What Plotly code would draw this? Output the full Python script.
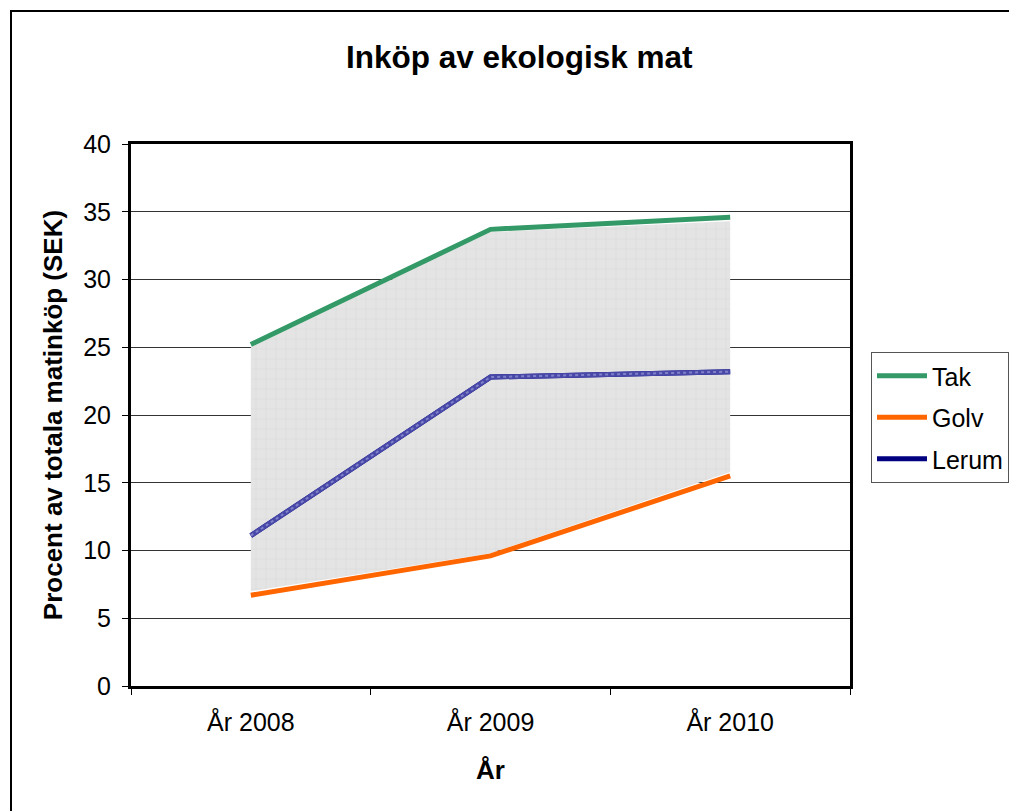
import plotly.graph_objects as go

years = ["År 2008", "År 2009", "År 2010"]
tak = [25.2, 33.7, 34.6]
golv = [6.7, 9.6, 15.5]
lerum = [11.1, 22.8, 23.2]
band_low = [7.0, 9.8, 15.8]
band_high = [25.0, 33.5, 34.3]
y_ticks = [0, 5, 10, 15, 20, 25, 30, 35, 40]

xpos = [i + 0.5 for i in range(len(years))]

fig = go.Figure()

# grey band
fig.add_trace(go.Scatter(x=xpos, y=band_low, mode="lines", line=dict(width=0),
                         showlegend=False, hoverinfo="skip"))
fig.add_trace(go.Scatter(x=xpos, y=band_high, mode="lines", line=dict(width=0),
                         fill="tonexty", fillcolor="#e2e2e2",
                         fillpattern=dict(shape="+", size=10, solidity=0.08,
                                          fgcolor="#c4c4c4", bgcolor="#e4e4e4"),
                         showlegend=False, hoverinfo="skip"))

fig.add_trace(go.Scatter(x=xpos, y=tak, name="Tak", mode="lines", legendgroup="a",
                         line=dict(color="#339966", width=5)))
fig.add_trace(go.Scatter(x=xpos, y=golv, name="Golv", mode="lines", legendgroup="b",
                         line=dict(color="#FF6600", width=5)))
fig.add_trace(go.Scatter(x=xpos, y=lerum, name="Lerum", mode="lines", legendgroup="c",
                         line=dict(color="#000080", width=5)))
fig.add_trace(go.Scatter(x=xpos, y=lerum, mode="lines", showlegend=False,
                         line=dict(color="#4848a8", width=5), hoverinfo="skip"))
fig.add_trace(go.Scatter(x=xpos, y=lerum, mode="lines", showlegend=False,
                         line=dict(color="#8080c8", width=2, dash="dot"), hoverinfo="skip"))

font = "Liberation Sans, Arial, sans-serif"

fig.update_layout(
    width=1009, height=811,
    margin=dict(l=131, r=159, t=144, b=125),
    paper_bgcolor="white", plot_bgcolor="white",
    font=dict(family=font, size=25, color="black"),
    showlegend=True,
    legend=dict(xref="container", yref="container",
                x=871 / 1009, y=1 - 352 / 811, xanchor="left", yanchor="top",
                traceorder="grouped",
                bordercolor="#555555", borderwidth=1, bgcolor="white",
                font=dict(size=25, family=font), tracegroupgap=6,
                itemwidth=50),
    xaxis=dict(range=[0, 3], tickvals=xpos, ticktext=years, ticks="",
               showgrid=False, zeroline=False,
               showline=True, linecolor="black", linewidth=3, mirror=True,
               tickfont=dict(size=25), ticklabelstandoff=12,
               minor=dict(tickvals=[0, 1, 2, 3], ticks="outside", ticklen=6,
                          tickcolor="black", tickwidth=1, showgrid=False),
               title=dict(text="<b>År</b>", font=dict(size=26), standoff=26)),
    yaxis=dict(range=[0, 40], tickvals=y_ticks, ticks="outside", ticklen=6,
               tickcolor="black", showgrid=True, gridcolor="#333333", gridwidth=1,
               zeroline=False, showline=True, linecolor="black", linewidth=3,
               mirror=True, tickfont=dict(size=25), ticklabelstandoff=6,
               title=dict(text="<b>Procent av totala matinköp (SEK)</b>",
                          font=dict(size=26), standoff=14)),
    shapes=[dict(type="rect", xref="paper", yref="paper",
                 x0=(11 - 131) / 719, x1=(1030 - 131) / 719,
                 y0=(686 - 830) / 542, y1=(686 - 11) / 542,
                 line=dict(color="black", width=2), layer="below")],
    annotations=[dict(text="<b>Inköp av ekologisk mat</b>", xref="paper", yref="paper",
                      x=(519 - 131) / 719, y=(686 - 57) / 542, showarrow=False,
                      font=dict(size=31.5, family=font), xanchor="center", yanchor="middle")],
)

fig.write_html("out.html", config={"displayModeBar": False},
               post_script="document.body.style.margin='0';")
